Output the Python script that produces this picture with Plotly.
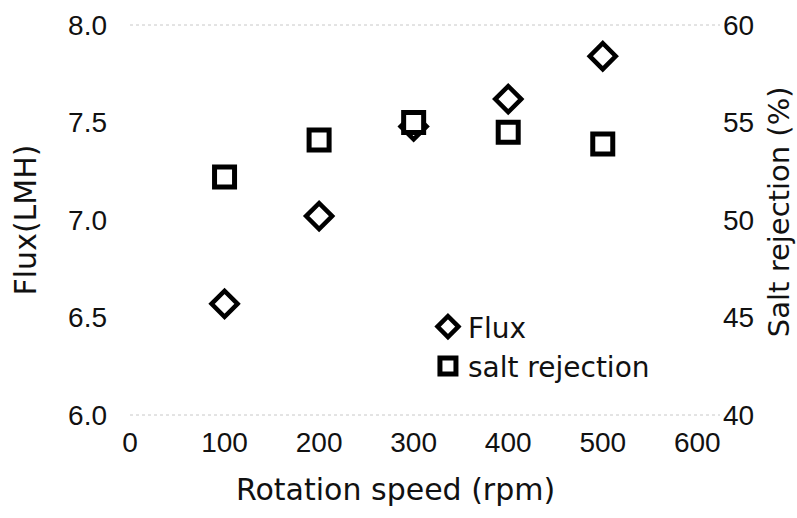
import plotly.graph_objects as go

speed = [100, 200, 300, 400, 500]
flux = [6.57, 7.02, 7.48, 7.62, 7.84]
salt_rejection = [52.2, 54.1, 55.0, 54.5, 53.9]

x_ticks = [0, 100, 200, 300, 400, 500, 600]
y1_ticks = [6.0, 6.5, 7.0, 7.5, 8.0]
y1_labels = ["6.0", "6.5", "7.0", "7.5", "8.0"]
y2_ticks = [40, 45, 50, 55, 60]

tick_font = dict(family="Liberation Sans", size=28, color="#111")
title_font = dict(family="DejaVu Sans", size=30, color="#111")

fig = go.Figure()
fig.add_trace(go.Scatter(
    x=speed, y=flux, name="Flux", mode="markers",
    marker=dict(symbol="diamond", size=20, color="white",
                line=dict(color="black", width=4.5)),
))
fig.add_trace(go.Scatter(
    x=speed, y=salt_rejection, name="salt rejection", mode="markers", yaxis="y2",
    marker=dict(symbol="square", size=20, color="white",
                line=dict(color="black", width=5)),
))

fig.update_layout(
    width=797, height=518,
    margin=dict(l=130, r=77, t=25, b=103),
    paper_bgcolor="white", plot_bgcolor="white",
    showlegend=True,
    legend=dict(x=0.505, y=0.29, xanchor="left", yanchor="top",
                font=dict(family="DejaVu Sans", size=28, color="#111"),
                bgcolor="rgba(0,0,0,0)"),
    xaxis=dict(range=[0, 624], tickvals=x_ticks, showgrid=False, zeroline=False,
               showline=False, ticks="", tickfont=tick_font,
               ticklabelstandoff=8, automargin=False),
    yaxis=dict(range=[6, 8], tickvals=y1_ticks, ticktext=y1_labels, showgrid=False,
               zeroline=False, showline=False, ticks="", tickfont=tick_font,
               ticklabelstandoff=22, automargin=False,
               title=dict(text="Flux(LMH)", font=title_font, standoff=22)),
    yaxis2=dict(range=[40, 60], tickvals=y2_ticks, overlaying="y", side="right",
                showgrid=False, zeroline=False, showline=False, ticks="",
                tickfont=tick_font, ticklabelstandoff=2, automargin=False),
    annotations=[
        dict(text="Rotation speed (rpm)", xref="paper", yref="paper",
             x=0.45, y=-0.19, xanchor="center", yanchor="middle",
             showarrow=False, font=title_font),
        dict(text="Salt rejection (%)", xref="paper", yref="paper",
             x=1.1, y=0.52, xanchor="center", yanchor="middle",
             textangle=-90, showarrow=False,
             font=dict(family="DejaVu Sans", size=29, color="#111")),
    ],
    shapes=[
        dict(type="line", xref="paper", yref="paper", x0=0, x1=1, y0=1, y1=1,
             line=dict(color="#c8c8c8", width=1, dash="dot")),
        dict(type="line", xref="paper", yref="paper", x0=0, x1=1, y0=0, y1=0,
             line=dict(color="#c8c8c8", width=1, dash="dot")),
    ],
)

fig.write_html("out.html")
